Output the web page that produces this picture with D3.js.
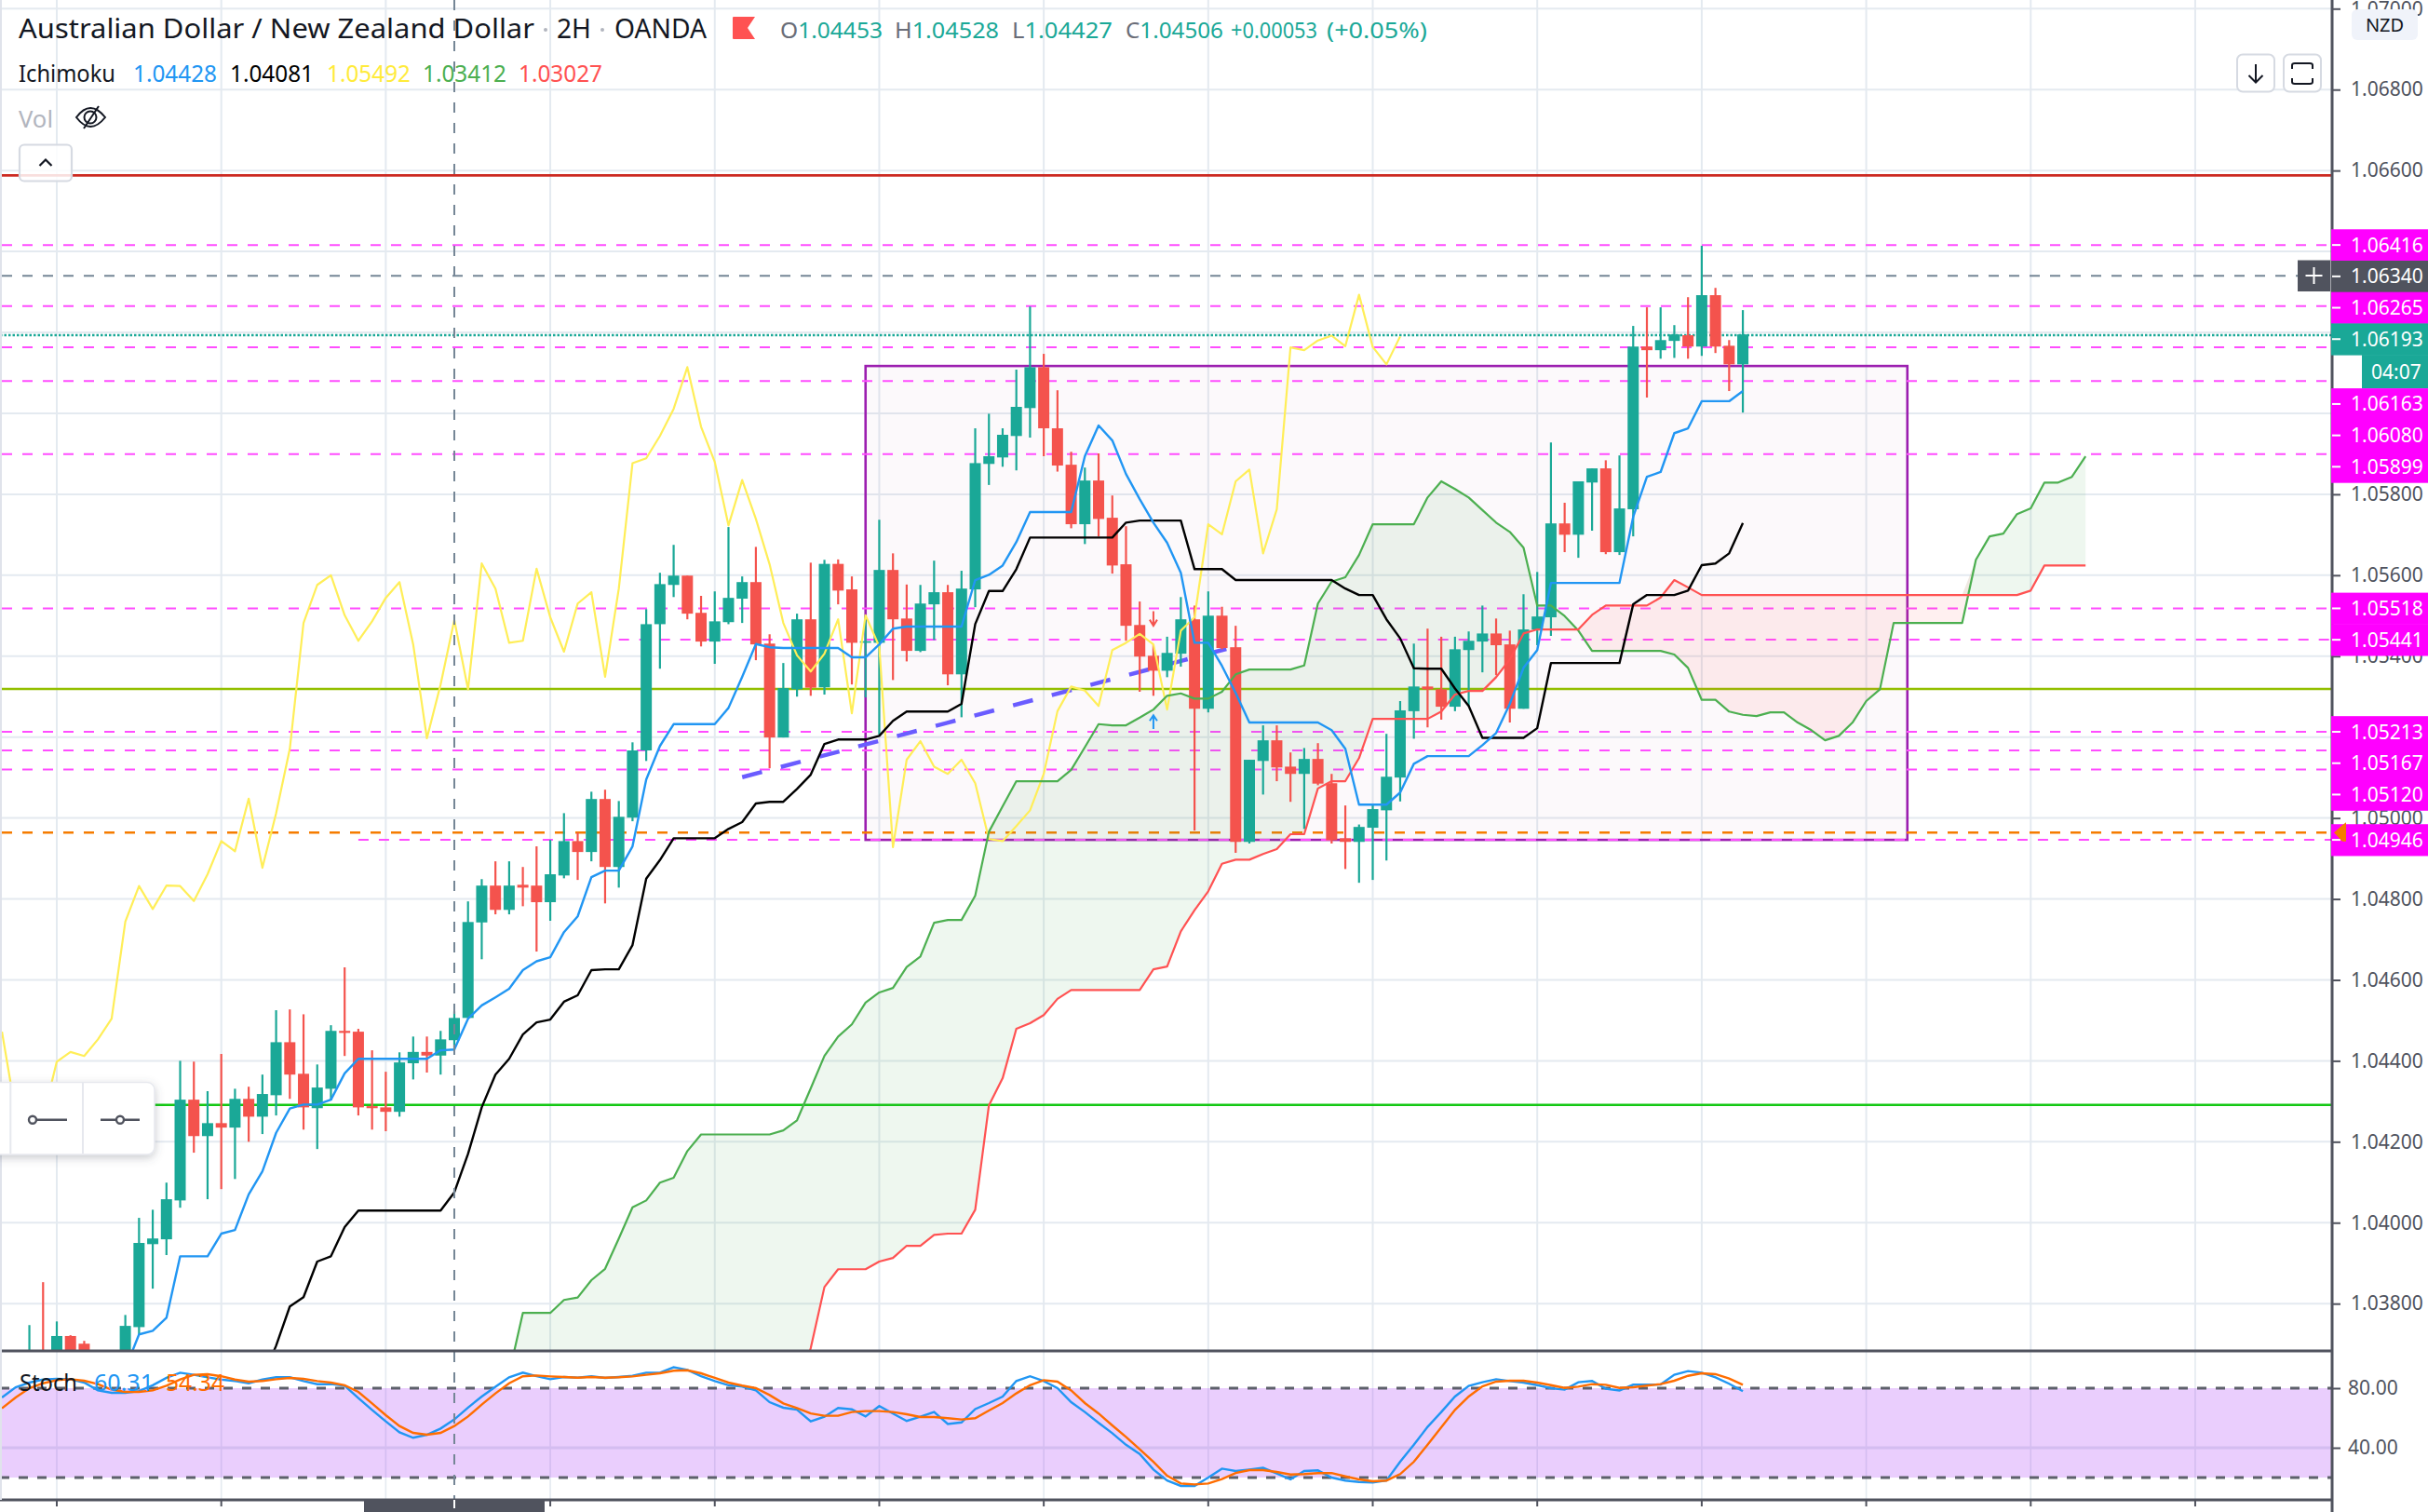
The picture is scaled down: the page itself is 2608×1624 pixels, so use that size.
<!DOCTYPE html>
<html><head><meta charset="utf-8">
<script src="https://cdn.jsdelivr.net/npm/d3@7/dist/d3.min.js"></script>
<style>html,body{margin:0;padding:0;background:#fff;overflow:hidden}svg{display:block}text{font-family:"Noto Sans",sans-serif}</style>
</head><body><svg id="c" width="2608" height="1624"></svg>
<script>
const opens=[1.03639,1.03616,1.03627,1.03673,1.03639,1.03720,1.03701,1.03616,1.03616,1.03673,1.03742,1.03947,1.03959,1.04055,1.04304,1.04214,1.04246,1.04235,1.04306,1.04262,1.04315,1.04446,1.04368,1.04283,1.04331,1.04474,1.04472,1.04288,1.04285,1.04274,1.04394,1.04422,1.04413,1.04451,1.04506,1.04742,1.04833,1.04773,1.04835,1.04833,1.04792,1.04858,1.04943,1.04916,1.05047,1.04879,1.05001,1.05167,1.05479,1.05576,1.05599,1.05507,1.05436,1.05484,1.05542,1.05583,1.05431,1.05199,1.05318,1.05491,1.05323,1.05628,1.05565,1.05433,1.05433,1.05613,1.05493,1.05413,1.05528,1.05558,1.05355,1.05565,1.05875,1.05891,1.05944,1.06013,1.06114,1.05963,1.05873,1.05726,1.05834,1.05742,1.05627,1.05477,1.05401,1.05364,1.05406,1.05491,1.05270,1.05500,1.05422,1.04941,1.05141,1.05192,1.05127,1.05109,1.05146,1.05086,1.04950,1.04941,1.04976,1.05019,1.05100,1.05264,1.05325,1.05318,1.05275,1.05415,1.05436,1.05456,1.05429,1.05270,1.05466,1.05496,1.05728,1.05700,1.05829,1.05864,1.05657,1.05763,1.06165,1.06156,1.06179,1.06193,1.06165,1.06292,1.06167,1.06121];
const highs=[1.03657,1.03650,1.03747,1.03853,1.03756,1.03722,1.03708,1.03673,1.03685,1.03772,1.04012,1.04032,1.04099,1.04400,1.04398,1.04325,1.04417,1.04331,1.04336,1.04366,1.04525,1.04527,1.04515,1.04391,1.04488,1.04631,1.04479,1.04426,1.04373,1.04421,1.04460,1.04460,1.04474,1.04522,1.04794,1.04849,1.04893,1.04893,1.04879,1.04930,1.04946,1.05012,1.04964,1.05065,1.05070,1.05042,1.05187,1.05516,1.05606,1.05675,1.05599,1.05549,1.05560,1.05719,1.05597,1.05670,1.05454,1.05383,1.05505,1.05631,1.05638,1.05639,1.05597,1.05500,1.05737,1.05654,1.05577,1.05576,1.05636,1.05576,1.05611,1.05963,1.05999,1.05963,1.06108,1.06264,1.06147,1.06057,1.05905,1.05866,1.05901,1.05797,1.05721,1.05535,1.05429,1.05448,1.05546,1.05525,1.05560,1.05522,1.05475,1.05144,1.05229,1.05229,1.05162,1.05173,1.05185,1.05109,1.05031,1.04984,1.05033,1.05208,1.05289,1.05431,1.05468,1.05448,1.05448,1.05461,1.05525,1.05493,1.05463,1.05553,1.05608,1.05928,1.05779,1.05832,1.05864,1.05884,1.05896,1.06216,1.06262,1.06262,1.06218,1.06287,1.06414,1.06310,1.06181,1.06255];
const lows=[1.03582,1.03593,1.03616,1.03593,1.03616,1.03627,1.03616,1.03593,1.03593,1.03657,1.03724,1.03837,1.03920,1.04037,1.04173,1.04058,1.04083,1.04108,1.04200,1.04219,1.04265,1.04306,1.04230,1.04182,1.04302,1.04412,1.04265,1.04230,1.04226,1.04262,1.04354,1.04371,1.04366,1.04426,1.04506,1.04651,1.04762,1.04762,1.04782,1.04670,1.04746,1.04851,1.04847,1.04893,1.04789,1.04828,1.04992,1.05141,1.05369,1.05546,1.05491,1.05424,1.05381,1.05479,1.05482,1.05390,1.05123,1.05199,1.05300,1.05302,1.05305,1.05528,1.05330,1.05298,1.05206,1.05341,1.05387,1.05410,1.05440,1.05328,1.05249,1.05521,1.05823,1.05868,1.05859,1.05940,1.05894,1.05856,1.05716,1.05677,1.05696,1.05604,1.05438,1.05312,1.05302,1.05348,1.05374,1.04969,1.05261,1.05417,1.04914,1.04937,1.05058,1.05091,1.05040,1.04973,1.05081,1.04937,1.04874,1.04840,1.04847,1.04895,1.05041,1.05196,1.05224,1.05243,1.05264,1.05277,1.05360,1.05353,1.05236,1.05270,1.05427,1.05450,1.05657,1.05643,1.05710,1.05652,1.05650,1.05696,1.06039,1.06135,1.06137,1.06135,1.06142,1.06149,1.06055,1.06002];
const closes=[1.03616,1.03639,1.03662,1.03639,1.03720,1.03662,1.03639,1.03662,1.03673,1.03745,1.03950,1.03961,1.04058,1.04304,1.04214,1.04246,1.04235,1.04306,1.04262,1.04318,1.04446,1.04366,1.04285,1.04334,1.04474,1.04469,1.04285,1.04283,1.04274,1.04396,1.04422,1.04413,1.04453,1.04506,1.04743,1.04833,1.04773,1.04833,1.04828,1.04792,1.04861,1.04943,1.04916,1.05047,1.04879,1.05003,1.05167,1.05479,1.05578,1.05599,1.05505,1.05436,1.05486,1.05544,1.05583,1.05429,1.05199,1.05321,1.05491,1.05322,1.05628,1.05562,1.05433,1.05437,1.05613,1.05491,1.05413,1.05530,1.05558,1.05355,1.05567,1.05877,1.05894,1.05947,1.06016,1.06114,1.05963,1.05871,1.05726,1.05834,1.05739,1.05624,1.05475,1.05399,1.05364,1.05408,1.05491,1.05270,1.05500,1.05420,1.04941,1.05144,1.05192,1.05125,1.05109,1.05146,1.05085,1.04945,1.04941,1.04978,1.05022,1.05102,1.05266,1.05325,1.05318,1.05275,1.05417,1.05438,1.05456,1.05427,1.05270,1.05466,1.05498,1.05728,1.05700,1.05832,1.05864,1.05657,1.05765,1.06165,1.06156,1.06181,1.06195,1.06165,1.06292,1.06165,1.06121,1.06195];

const tenkanStart=9;
const tenkan=[1.03639,1.03724,1.03733,1.03765,1.03917,1.03917,1.03917,1.03973,1.03982,1.04070,1.04127,1.04222,1.04282,1.04292,1.04292,1.04304,1.04369,1.04405,1.04405,1.04405,1.04405,1.04405,1.04405,1.04426,1.04428,1.04504,1.04537,1.04557,1.04578,1.04624,1.04646,1.04656,1.04718,1.04757,1.04854,1.04870,1.04870,1.04930,1.05095,1.05178,1.05232,1.05232,1.05232,1.05232,1.05272,1.05349,1.05430,1.05422,1.05420,1.05420,1.05420,1.05420,1.05420,1.05397,1.05397,1.05429,1.05468,1.05473,1.05473,1.05473,1.05473,1.05473,1.05588,1.05601,1.05624,1.05682,1.05756,1.05756,1.05756,1.05756,1.05894,1.05970,1.05933,1.05850,1.05788,1.05730,1.05680,1.05606,1.05433,1.05433,1.05376,1.05309,1.05236,1.05236,1.05236,1.05236,1.05236,1.05236,1.05217,1.05171,1.05033,1.05033,1.05033,1.05063,1.05134,1.05153,1.05153,1.05153,1.05153,1.05180,1.05210,1.05282,1.05371,1.05415,1.05581,1.05581,1.05581,1.05581,1.05581,1.05581,1.05744,1.05843,1.05855,1.05951,1.05963,1.06030,1.06030,1.06030,1.06055];
const kijunStart=19;
const kijun=[1.03616,1.03696,1.03793,1.03816,1.03904,1.03917,1.03989,1.04030,1.04030,1.04030,1.04030,1.04030,1.04030,1.04030,1.04075,1.04170,1.04285,1.04366,1.04405,1.04465,1.04495,1.04502,1.04546,1.04562,1.04624,1.04626,1.04626,1.04686,1.04850,1.04896,1.04950,1.04950,1.04950,1.04950,1.04973,1.04990,1.05036,1.05040,1.05040,1.05072,1.05107,1.05183,1.05194,1.05194,1.05194,1.05203,1.05240,1.05263,1.05263,1.05263,1.05263,1.05282,1.05479,1.05561,1.05561,1.05615,1.05693,1.05693,1.05693,1.05693,1.05693,1.05693,1.05693,1.05730,1.05735,1.05735,1.05735,1.05735,1.05615,1.05615,1.05615,1.05588,1.05588,1.05588,1.05588,1.05588,1.05588,1.05588,1.05588,1.05567,1.05551,1.05551,1.05491,1.05444,1.05370,1.05369,1.05369,1.05320,1.05277,1.05198,1.05198,1.05198,1.05198,1.05222,1.05383,1.05383,1.05383,1.05383,1.05383,1.05383,1.05528,1.05551,1.05551,1.05551,1.05562,1.05625,1.05629,1.05654,1.05729];
const cloudStart=36;
const senkouA=[1.03455,1.03627,1.03777,1.03777,1.03777,1.03809,1.03815,1.03858,1.03886,1.03961,1.04038,1.04055,1.04099,1.04111,1.04177,1.04218,1.04218,1.04218,1.04218,1.04218,1.04218,1.04228,1.04253,1.04332,1.04412,1.04460,1.04490,1.04544,1.04569,1.04580,1.04632,1.04658,1.04741,1.04748,1.04748,1.04808,1.04966,1.05029,1.05091,1.05091,1.05091,1.05091,1.05119,1.05175,1.05232,1.05229,1.05229,1.05248,1.05268,1.05302,1.05308,1.05295,1.05295,1.05312,1.05355,1.05367,1.05367,1.05367,1.05367,1.05377,1.05530,1.05584,1.05595,1.05650,1.05726,1.05726,1.05726,1.05726,1.05792,1.05832,1.05813,1.05792,1.05761,1.05730,1.05707,1.05668,1.05525,1.05525,1.05499,1.05463,1.05413,1.05413,1.05413,1.05413,1.05413,1.05413,1.05404,1.05371,1.05292,1.05292,1.05263,1.05255,1.05252,1.05261,1.05261,1.05236,1.05217,1.05192,1.05203,1.05236,1.05289,1.05318,1.05482,1.05482,1.05482,1.05482,1.05482,1.05482,1.05638,1.05696,1.05703,1.05751,1.05765,1.05829,1.05829,1.05843,1.05894];
const senkouB=[1.03400,1.03400,1.03400,1.03400,1.03400,1.03400,1.03400,1.03400,1.03400,1.03400,1.03480,1.03480,1.03480,1.03480,1.03480,1.03480,1.03480,1.03520,1.03520,1.03520,1.03520,1.03520,1.03570,1.03690,1.03841,1.03885,1.03885,1.03885,1.03904,1.03913,1.03943,1.03943,1.03970,1.03973,1.03973,1.04032,1.04290,1.04357,1.04479,1.04493,1.04513,1.04553,1.04575,1.04575,1.04575,1.04575,1.04575,1.04575,1.04626,1.04633,1.04720,1.04772,1.04819,1.04887,1.04897,1.04897,1.04911,1.04923,1.04960,1.04960,1.05073,1.05091,1.05091,1.05148,1.05245,1.05245,1.05245,1.05245,1.05245,1.05263,1.05305,1.05314,1.05314,1.05348,1.05392,1.05456,1.05466,1.05466,1.05466,1.05466,1.05502,1.05525,1.05525,1.05525,1.05525,1.05545,1.05588,1.05570,1.05551,1.05551,1.05551,1.05551,1.05551,1.05551,1.05551,1.05551,1.05551,1.05551,1.05551,1.05551,1.05551,1.05551,1.05551,1.05551,1.05551,1.05551,1.05551,1.05551,1.05551,1.05551,1.05551,1.05551,1.05562,1.05624,1.05624,1.05624,1.05624];
const chikou=[1.04472,1.04272,1.04191,1.04260,1.04398,1.04422,1.04412,1.04453,1.04504,1.04744,1.04832,1.04775,1.04833,1.04832,1.04795,1.04861,1.04943,1.04918,1.05048,1.04877,1.05012,1.05171,1.05482,1.05576,1.05600,1.05501,1.05438,1.05486,1.05544,1.05583,1.05429,1.05197,1.05330,1.05489,1.05318,1.05629,1.05567,1.05433,1.05438,1.05616,1.05496,1.05411,1.05530,1.05558,1.05349,1.05567,1.05877,1.05889,1.05944,1.06011,1.06114,1.05967,1.05880,1.05723,1.05835,1.05739,1.05627,1.05482,1.05402,1.05362,1.05406,1.05491,1.05259,1.05501,1.05424,1.04928,1.05144,1.05190,1.05127,1.05109,1.05144,1.05086,1.04948,1.04943,1.04980,1.05019,1.05109,1.05264,1.05325,1.05315,1.05277,1.05415,1.05433,1.05455,1.05429,1.05268,1.05463,1.05496,1.05726,1.05701,1.05832,1.05861,1.05654,1.05763,1.06163,1.06156,1.06180,1.06192,1.06166,1.06293,1.06164,1.06121,1.06190];
const stochK=[73.75,80.6,83.75,85.8,86.25,86,83.75,78.5,76.9,76.9,78,82,86.9,90.4,89,87.3,85.8,84.8,83.3,85.8,87.3,87.3,84.8,82.7,82.7,81.7,73.3,65.4,57.7,50.4,46.7,48.75,52.9,59,67,74.4,81,87.3,90.4,88,86,87.5,87,88,86.9,87.5,88.3,90.4,90.4,94,92.3,88,84.8,82,81,78.5,70.6,66.9,65.6,57.7,60.8,66.7,65.8,61,68,63,58,60.8,64,56,57,66,70,74.4,84.8,88,84.8,80,70.6,64,56.7,49.8,42,35.8,25.4,18,14.4,14.4,20,26,24.4,25.4,26.5,22.7,18.75,24.4,24.8,20,18,17,16.7,18,30.6,42,54,64,74.4,81.5,84,86,84.8,83.75,82,80,79,84,84.8,79.6,78.5,82.3,82.3,82.5,89,91.5,90.4,87.3,83,78];
const stochD=[66.5,73.75,80,83.3,85.4,86,85,82.7,79,77.5,77.5,78.5,81.7,85.8,89,89.4,88,85.8,84.4,84.8,86,86.9,86.25,84.8,83.75,82,77.5,69.8,61.9,54.6,50,48.75,50,54.6,61,69,76.5,83.3,88,88.5,87.9,87.5,87,87.5,87,87.3,87.9,89,90,91.7,92,90,86.9,83.75,81.7,80,75.4,69.8,66.7,63,61.5,61.5,64,64.6,64.6,64,62.5,60.6,60.6,59.8,59,59.8,65,70,76.5,82,85.4,84.4,78.5,70,63,55,47.3,39,30.6,21.25,16,15.4,16,19,23,25,25,23.75,22,22.3,23,23,20.8,18.75,17.5,18,22.3,30.6,42,53.75,65.4,74.4,81.25,84.4,85,85,83.75,82,80.2,81,82.7,82.3,80.2,80.6,81.7,82.7,85,88.3,90,89.4,86.5,82.3];

const priceTicks=[1.070,1.068,1.066,1.064,1.062,1.060,1.058,1.056,1.054,1.052,1.050,1.048,1.046,1.044,1.042,1.040,1.038];
const dayTicks=[4,16,28,40,52,64,76,88,100,112,124,136,148,160];
const stochTicks=[80,40];
const magentaLevels=[1.06416,1.06265,1.06163,1.06080,1.05899,1.05518,1.05213,1.05167,1.05120];
const magentaPartial=[[1.05441,45],[1.04946,26]];
const rectBox={i0:63,i1:139,top:1.06117,bottom:1.04946};
const resistance=1.06588, lastPrice=1.06193, crossPrice=1.06340, oliveLevel=1.05319, orangeLevel=1.04964, greenLevel=1.04291;
const trend={i0:54,p0:1.05101,i1:90,p1:1.05424};
const crossIndex=33;
const axisLabels=[["1.06416","#ff00ff"],["1.06340","#50535e"],["1.06265","#ff00ff"],["1.06193","#1aa897"],["1.06163","#ff00ff"],["1.06080","#ff00ff"],["1.05899","#ff00ff"],["1.05518","#ff00ff"],["1.05441","#ff00ff"],["1.05213","#ff00ff"],["1.05167","#ff00ff"],["1.05120","#ff00ff"],["1.04946","#ff00ff"]];
const ichiLegend=[["1.04428","#2196f3",143],["1.04081","#000",247],["1.05492","#ffeb3b",351],["1.03412","#4caf50",454],["1.03027","#ff5252",557]];
const ohlc=[["O","1.04453",838,110],["H","1.04528",961,112],["L","1.04427",1087,108],["C","1.04506",1209,105]];
const titleParts=[["Australian Dollar / New Zealand Dollar",20,554],["2H",598,37],["OANDA",660,99]];
const titleDots=[586,647];

const W=2608,H=1624,axisX=2505,paneBottom=1451,stochBottom=1611;
const TEAL="#1aa897",RED="#f4534d",GRID="#e4eaf0",AXC="#50535e",MAG="#ff4dff";
const svg=d3.select("#c");
const x=d3.scaleLinear().domain([0,170]).range([2.1,2505.2]);
const y=d3.scaleLinear().domain([1.07,1.038]).range([9.3,1400.2]);
const sy=d3.scaleLinear().domain([100,20]).range([1459,1587]);
const defs=svg.append("defs");
defs.append("clipPath").attr("id","main").append("rect").attr("x",0).attr("y",0).attr("width",axisX).attr("height",paneBottom);
defs.append("clipPath").attr("id","st").append("rect").attr("x",0).attr("y",paneBottom).attr("width",axisX).attr("height",stochBottom-paneBottom);
const sh=defs.append("filter").attr("id","shadow").attr("x","-20%").attr("y","-20%").attr("width","140%").attr("height","150%");
sh.append("feDropShadow").attr("dx",0).attr("dy",3).attr("stdDeviation",5).attr("flood-color","#50535e").attr("flood-opacity",.3);

svg.append("rect").attr("width",W).attr("height",H).attr("fill","#fff");
const main=svg.append("g").attr("clip-path","url(#main)");
// grid
main.selectAll(".gy").data(priceTicks).join("line").attr("x1",0).attr("x2",axisX).attr("y1",d=>y(d)).attr("y2",d=>y(d)).attr("stroke",GRID).attr("stroke-width",2);
main.selectAll(".gx").data(dayTicks).join("line").attr("x1",d=>x(d)).attr("x2",d=>x(d)).attr("y1",0).attr("y2",paneBottom).attr("stroke",GRID).attr("stroke-width",2);
// rectangle
main.append("rect").attr("x",x(rectBox.i0)).attr("y",y(rectBox.top)).attr("width",x(rectBox.i1)-x(rectBox.i0)).attr("height",y(rectBox.bottom)-y(rectBox.top)).attr("fill","rgba(156,39,100,0.028)").attr("stroke","#9c1fb0").attr("stroke-width",2.6);
// horizontal levels
const hl=(p,c,w,dash,x0)=>main.append("line").attr("x1",x0||0).attr("x2",axisX).attr("y1",y(p)).attr("y2",y(p)).attr("stroke",c).attr("stroke-width",w).attr("stroke-dasharray",dash||null);
magentaLevels.forEach(p=>hl(p,MAG,2,"11 11",2));
magentaPartial.forEach(([p,i])=>hl(p,MAG,2,"11 11",x(i)));
hl(resistance,"#cc2a22",2.6);
hl(crossPrice,"#758696",2,"11 11",2);
hl(lastPrice,TEAL,2.4,"2.5 2");
hl(oliveLevel,"#93bf00",2.4);
hl(orangeLevel,"#f57c00",2.4,"11 11",2);
hl(greenLevel,"#14c814",2.6);
// cloud
const idx=senkouA.map((_,k)=>k+cloudStart);
main.append("path").datum(idx).attr("fill","rgba(76,175,80,0.095)").attr("d",d3.area().x(d=>x(d)).y0(d=>y(senkouB[d-cloudStart])).y1(d=>Math.min(y(senkouA[d-cloudStart]),y(senkouB[d-cloudStart]))));
main.append("path").datum(idx).attr("fill","rgba(255,82,82,0.085)").attr("d",d3.area().x(d=>x(d)).y0(d=>y(senkouA[d-cloudStart])).y1(d=>Math.min(y(senkouA[d-cloudStart]),y(senkouB[d-cloudStart]))));
// trend
main.append("line").attr("x1",x(trend.i0)).attr("x2",x(trend.i1)).attr("y1",y(trend.p0)).attr("y2",y(trend.p1)).attr("stroke","#6a5cff").attr("stroke-width",4.5).attr("stroke-dasharray","22 21");
// candles
const bars=opens.map((o,i)=>({i,o,h:highs[i],l:lows[i],c:closes[i]}));
const col=d=>d.c>=d.o?TEAL:RED;
main.selectAll(".w").data(bars).join("line").attr("x1",d=>x(d.i)).attr("x2",d=>x(d.i)).attr("y1",d=>y(d.h)).attr("y2",d=>y(d.l)).attr("stroke",col).attr("stroke-width",2.2);
main.selectAll(".b").data(bars).join("rect").attr("x",d=>x(d.i)-6).attr("width",12).attr("y",d=>y(Math.max(d.o,d.c))).attr("height",d=>Math.max(1.5,Math.abs(y(d.o)-y(d.c)))).attr("fill",col);
// lines
const ln=(arr,start,c,w)=>main.append("path").datum(arr).attr("fill","none").attr("stroke",c).attr("stroke-width",w).attr("stroke-linejoin","round").attr("d",d3.line().x((d,k)=>x(k+start)).y(d=>y(d)));
ln(chikou,0,"#ffee58",2.2);
ln(senkouA,cloudStart,"#4caf50",2.2);
ln(senkouB,cloudStart,"#ff5252",2.2);
ln(kijun,kijunStart,"#000",2.4);
ln(tenkan,tenkanStart,"#2196f3",2.4);
// signal arrows
const arrowIdx=84;
const ax=x(arrowIdx);
main.append("path").attr("d",`M${ax} ${y(1.05511)}V${y(1.05475)}M${ax-4} ${y(1.05490)}L${ax} ${y(1.05475)}L${ax+4} ${y(1.05490)}`).attr("fill","none").attr("stroke","#f4534d").attr("stroke-width",2);
main.append("path").attr("d",`M${ax} ${y(1.05220)}V${y(1.05254)}M${ax-4} ${y(1.05240)}L${ax} ${y(1.05254)}L${ax+4} ${y(1.05240)}`).attr("fill","none").attr("stroke","#2196f3").attr("stroke-width",2);

// stoch pane
const st=svg.append("g").attr("clip-path","url(#st)");
st.selectAll(".g").data(dayTicks).join("line").attr("x1",d=>x(d)).attr("x2",d=>x(d)).attr("y1",paneBottom).attr("y2",stochBottom).attr("stroke",GRID).attr("stroke-width",1.6);
st.append("line").attr("x1",0).attr("x2",axisX).attr("y1",sy(40)).attr("y2",sy(40)).attr("stroke",GRID).attr("stroke-width",3);
st.append("rect").attr("x",0).attr("width",axisX).attr("y",sy(80)).attr("height",sy(20)-sy(80)).attr("fill","rgba(150,10,245,0.2)");
[80,20].forEach(v=>st.append("line").attr("x1",0).attr("x2",axisX).attr("y1",sy(v)).attr("y2",sy(v)).attr("stroke","#5d606b").attr("stroke-width",3).attr("stroke-dasharray","10 10"));
const sl=(arr,c)=>st.append("path").datum(arr).attr("fill","none").attr("stroke",c).attr("stroke-width",2.4).attr("d",d3.line().x((d,k)=>x(k)).y(d=>sy(d)));
sl(stochK,"#2196f3");sl(stochD,"#ff6d00");

// crosshair
svg.append("line").attr("x1",x(crossIndex)).attr("x2",x(crossIndex)).attr("y1",0).attr("y2",stochBottom).attr("stroke","#758696").attr("stroke-width",2).attr("stroke-dasharray","11 11");

// separators
svg.append("line").attr("x1",0).attr("x2",axisX).attr("y1",paneBottom).attr("y2",paneBottom).attr("stroke",AXC).attr("stroke-width",3);
svg.append("line").attr("x1",0).attr("x2",axisX).attr("y1",stochBottom).attr("y2",stochBottom).attr("stroke",AXC).attr("stroke-width",3);
svg.append("line").attr("x1",1).attr("x2",1).attr("y1",0).attr("y2",stochBottom).attr("stroke","#e0e3eb").attr("stroke-width",2);
svg.append("line").attr("x1",axisX).attr("x2",axisX).attr("y1",0).attr("y2",H).attr("stroke",AXC).attr("stroke-width",3);
svg.append("g").selectAll("line").data(dayTicks).join("line").attr("x1",d=>x(d)).attr("x2",d=>x(d)).attr("y1",stochBottom).attr("y2",stochBottom+7).attr("stroke",AXC).attr("stroke-width",2);
svg.append("rect").attr("x",391).attr("y",stochBottom).attr("width",194).attr("height",H-stochBottom).attr("fill",AXC);
svg.append("line").attr("x1",x(crossIndex)).attr("x2",x(crossIndex)).attr("y1",stochBottom).attr("y2",stochBottom+9).attr("stroke","#fff").attr("stroke-width",2);

// right axis via d3
const axG=svg.append("g").attr("transform",`translate(${axisX},0)`).call(d3.axisRight(y).tickValues(priceTicks).tickFormat(d3.format(".5f")).tickSize(9).tickPadding(11));
axG.select(".domain").remove();
axG.selectAll("line").attr("stroke",AXC).attr("stroke-width",2);
axG.selectAll("text").attr("font-size",21).attr("fill",AXC).attr("font-family",'"Noto Sans",sans-serif');
const stAx=svg.append("g").attr("transform",`translate(${axisX},0)`).call(d3.axisRight(sy).tickValues(stochTicks).tickFormat(d3.format(".2f")).tickSize(9).tickPadding(8));
stAx.select(".domain").remove();
stAx.selectAll("line").attr("stroke",AXC).attr("stroke-width",2);
stAx.selectAll("text").attr("font-size",21).attr("fill",AXC).attr("font-family",'"Noto Sans",sans-serif');

// price labels (stacked)
const boxH=33.7;let prev=-1e9;
const lg=svg.append("g");
axisLabels.forEach(([t,c])=>{
  let cy=y(+t);
  if(cy-boxH/2<prev)cy=prev+boxH/2;
  const top=cy-boxH/2;prev=top+boxH;
  lg.append("rect").attr("x",2504).attr("y",top).attr("width",104).attr("height",boxH+.5).attr("fill",c);
  lg.append("line").attr("x1",2505).attr("x2",2514).attr("y1",cy).attr("y2",cy).attr("stroke","#fff").attr("stroke-width",2);
  lg.append("text").attr("x",2525).attr("y",cy).attr("dy","0.36em").attr("font-size",21).attr("fill","#fff").text(t);
  if(t==="1.06193"){
    lg.append("rect").attr("x",2537).attr("y",prev).attr("width",71).attr("height",36).attr("fill",TEAL);
    lg.append("text").attr("x",2547).attr("y",prev+18).attr("dy","0.36em").attr("font-size",21).attr("fill","#fff").text("04:07");
    prev+=36;
  }
});
// orange marker
svg.append("path").attr("d",`M2520 ${y(orangeLevel)-11}V${y(orangeLevel)+9.5}H2516L2507 ${y(orangeLevel)}L2516 ${y(orangeLevel)-8}Z`).attr("fill","#f57c00");
// crosshair plus
svg.append("rect").attr("x",2468).attr("y",279.5).attr("width",35).attr("height",33.5).attr("fill",AXC);
svg.append("path").attr("d",`M2485.5 287V305M2476.5 296H2494.5`).attr("stroke","#fff").attr("stroke-width",2);

// NZD tag
svg.append("rect").attr("x",2526).attr("y",10).attr("width",71).attr("height",33).attr("rx",6).attr("fill","#f0f3fa");
svg.append("text").attr("x",2561.5).attr("y",27).attr("dy","0.36em").attr("text-anchor","middle").attr("font-size",20).attr("fill","#131722").text("NZD");
// top-right buttons
[2403,2453].forEach(bx=>svg.append("rect").attr("x",bx).attr("y",58.5).attr("width",40).attr("height",40).attr("rx",6).attr("fill","#fff").attr("stroke","#d6dae2").attr("stroke-width",2));
svg.append("path").attr("d","M2423 69V88M2415.5 81L2423 88.5L2430.5 81").attr("fill","none").attr("stroke","#131722").attr("stroke-width",2);
svg.append("path").attr("d","M2462 74V70Q2462 68 2465 68H2481Q2484 68 2484 70V74M2462 84V88Q2462 90 2465 90H2481Q2484 90 2484 88V84").attr("fill","none").attr("stroke","#131722").attr("stroke-width",2);

// header
const T=(s,px,py,size,fill,len)=>{const e=svg.append("text").attr("x",px).attr("y",py).attr("font-size",size).attr("fill",fill).text(s);if(len)e.attr("textLength",len).attr("lengthAdjust","spacingAndGlyphs");return e;};
titleParts.forEach(([s,px,len])=>T(s,px,41,29,"#131722",len));
titleDots.forEach(px=>svg.append("circle").attr("cx",px).attr("cy",32).attr("r",2).attr("fill","#b2b5be"));
svg.append("path").attr("d","M787 19Q787 18 788 18H811L803 30L811 42H788Q787 42 787 41Z").attr("fill","#ff5252");
ohlc.forEach(([k,v,px,len])=>{
  const e=svg.append("text").attr("x",px).attr("y",41).attr("font-size",24).attr("fill",TEAL).attr("textLength",len).attr("lengthAdjust","spacingAndGlyphs");
  e.append("tspan").attr("fill","#6a6d78").text(k);e.append("tspan").text(v);
});
T("+0.00053",1322,41,24,TEAL,93);
T("(+0.05%)",1425,41,24,TEAL,108);
T("Ichimoku",20,88,25,"#131722",104);
ichiLegend.forEach(([t,c,px])=>T(t,px,88,25,c,90));
T("Vol",20,137,25,"#b2b5be",37);
svg.append("path").attr("d","M82 126Q97 106 113 126Q97 146 82 126ZM90 138L106 114").attr("fill","none").attr("stroke","#131722").attr("stroke-width",2);
svg.append("circle").attr("cx",97).attr("cy",126).attr("r",6.5).attr("fill","none").attr("stroke","#131722").attr("stroke-width",2);
svg.append("rect").attr("x",21).attr("y",155.5).attr("width",56).attr("height",39).attr("rx",5).attr("fill","rgba(255,255,255,.85)").attr("stroke","#d6dae2").attr("stroke-width",2.2);
svg.append("path").attr("d","M42.5 178L49 171.5L55.5 178").attr("fill","none").attr("stroke","#131722").attr("stroke-width",2.2);

// stoch legend
T("Stoch",21,1494,26,"#131722",62);
T("60.31",101,1494,26,"#2196f3",64);
T("54.34",178,1494,26,"#ff6d00",63);

// floating panel
svg.append("rect").attr("x",-12).attr("y",1162.5).attr("width",178).attr("height",77.5).attr("rx",8).attr("fill","#fff").attr("stroke","#e6e8ee").attr("stroke-width",1.5).attr("filter","url(#shadow)");
[11.3,89].forEach(px=>svg.append("line").attr("x1",px).attr("x2",px).attr("y1",1163).attr("y2",1239).attr("stroke","#e6e8ee").attr("stroke-width",2));
svg.append("path").attr("d","M39 1202.7H72M108 1202.7H125M133 1202.7H150").attr("stroke",AXC).attr("stroke-width",2.4);
[35,129].forEach(px=>svg.append("circle").attr("cx",px).attr("cy",1202.7).attr("r",4).attr("fill","#fff").attr("stroke",AXC).attr("stroke-width",2.4));
</script></body></html>
